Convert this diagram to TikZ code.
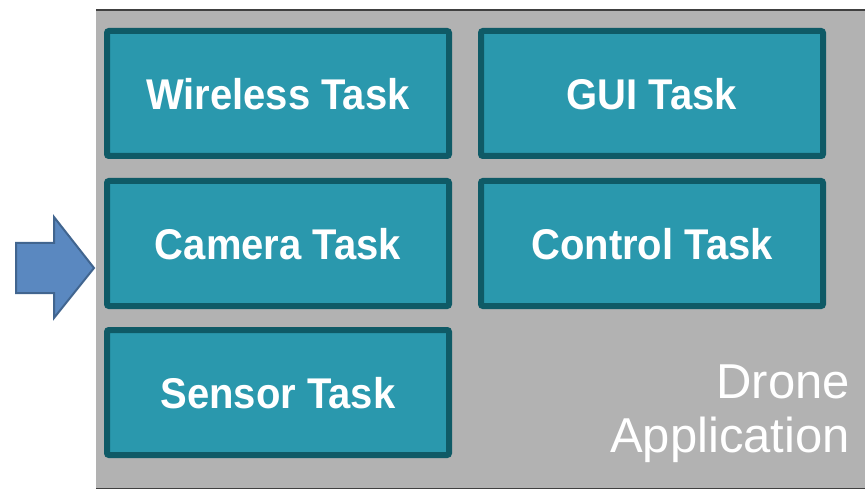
\documentclass[tikz,border=0pt]{standalone}
\usepackage{fontspec}
\setmainfont{Liberation Sans}
\newfontfamily\taskfont[FakeStretch=0.93]{Liberation Sans}
\definecolor{bggray}{HTML}{B2B2B2}
\definecolor{edgegray}{HTML}{404040}
\definecolor{taskfill}{HTML}{2A98AD}
\definecolor{taskedge}{HTML}{0F5A66}
\definecolor{arrowfill}{HTML}{5A88C0}
\definecolor{arrowedge}{HTML}{41658F}
\begin{document}
\begin{tikzpicture}[x=1pt,y=-1pt,
  taskbox/.style={draw=taskedge, fill=taskfill, line width=6pt, rounded corners=2pt,
    minimum width=342pt, minimum height=125pt, inner sep=0pt, outer sep=0pt,
    text=white, text depth=0pt, font=\taskfont\bfseries\fontsize{43}{50}\selectfont},
  apptext/.style={text=white, font=\fontsize{49}{54}\selectfont, align=right, inner sep=0pt}]
\useasboundingbox (0,0) rectangle (865,489);
% application area
\fill[bggray] (96,10) rectangle (865,489);
\draw[edgegray, line width=2pt] (96,10) -- (865,10);
\draw[edgegray, line width=1.5pt] (96,488.5) -- (865,488.5);
% tasks
\node[taskbox] (wireless) at (278,93.5) {Wireless Task};
\node[taskbox] (gui) at (652,93.5) {GUI Task};
\node[taskbox] (camera) at (278,243.5) {Camera Task};
\node[taskbox] (control) at (652,243.5) {Control Task};
\node[taskbox] (sensor) at (278,392.5) {Sensor Task};
% label
\node[apptext, anchor=base east] (drone) at (850,398) {Drone};
\node[apptext, anchor=base east] (app) at (850,452) {Application};
% input arrow
\draw[arrowedge, fill=arrowfill, line width=2pt, line join=miter]
  (16,243) -- (54,243) -- (54,217) -- (94,268) -- (54,318) -- (54,293) -- (16,293) -- cycle;
\end{tikzpicture}
\end{document}
